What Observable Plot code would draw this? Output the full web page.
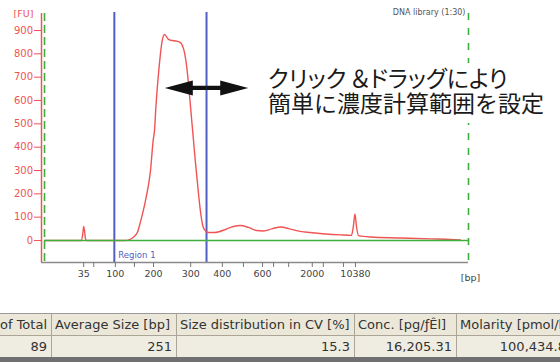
<!DOCTYPE html>
<html><head><meta charset="utf-8">
<script src="https://cdn.jsdelivr.net/npm/d3@7"></script>
<script src="https://cdn.jsdelivr.net/npm/@observablehq/plot@0.6"></script>
<style>
body{margin:0;background:#fff;width:560px;height:362px;overflow:hidden;position:relative;font-family:"DejaVu Sans",sans-serif;}
#chart{position:absolute;left:0;top:0;}
#note{position:absolute;left:262px;top:63px;width:293px;height:60px;background:#fff;color:#1a1a1a;font-family:"Noto Sans CJK JP",sans-serif;font-size:23px;line-height:25px;padding:2px 0 0 6px;box-sizing:border-box;white-space:nowrap;}
#note .l1{font-feature-settings:"palt";}
#tbl{position:absolute;left:0;top:313px;width:560px;height:49px;overflow:hidden;background:#fff;}
#tbl table{position:absolute;left:-45px;top:0;border-collapse:collapse;table-layout:fixed;font-family:"DejaVu Sans",sans-serif;font-size:13px;color:#333;}
#tbl td{border:1px solid #aaa597;height:21px;padding:0;overflow:hidden;white-space:nowrap;line-height:20px;}
#tbl tr.h td{background:#ebe8da;text-align:left;padding-left:3px;border-top:1px solid #9a9a9a;}
#tbl tr.h td.first{text-align:right;padding-right:4px;}
#tbl tr.d td{background:#efece2;text-align:right;padding-right:4px;}
#band{position:absolute;left:0;top:357px;width:560px;height:5px;background:#707070;}
</style></head>
<body>
<div id="chart"></div>
<div id="note"></div>
<div id="tbl"></div>
<div id="band"></div>
<script>
// ---- data ----
const ladderSizes = [35, 50, 100, 150, 200, 300, 400, 500, 600, 700, 1000, 2000, 3000, 7000, 10380];
const ladderTimes = [48.4, 50.4, 54.7, 58.5, 62.3, 69.7, 76.0, 80.2, 84.0, 86.2, 89.2, 93.9, 96.1, 100.1, 102.5];
const labeledSizes = [35, 100, 200, 300, 400, 600, 2000, 10380];
const yTicks = [0, 100, 200, 300, 400, 500, 600, 700, 800, 900];
const traceTime = [40.6, 47.9, 48.2, 48.4, 48.55, 48.75, 48.95, 56.7, 57.5, 58.3, 59.1, 59.7, 60.7, 61.7, 62.23, 62.49, 62.79, 63.35, 64.03, 64.49, 65.28, 66.02, 66.77, 67.53, 68.07, 68.52, 68.96, 69.32, 69.76, 70.2, 70.62, 71.0, 71.4, 71.8, 72.15, 72.65, 73.24, 74.44, 76.6, 78.2, 79.6, 81.2, 82.8, 84.2, 86.0, 87.6, 89.2, 91.0, 93.5, 96.5, 99.5, 101.7, 102.1, 102.4, 102.7, 103.1, 105.5, 111.5, 117.4, 121.4, 123.4];
const traceFU = [0, 0, 25, 60, 45, 8, 0, 0, 4, 14, 35, 80, 171, 300, 429, 471, 579, 729, 857, 883, 862, 857, 855, 850, 835, 800, 735, 657, 550, 443, 340, 257, 170, 100, 60, 41, 34, 34, 47, 60, 64, 56, 43, 41, 51, 58, 51, 41, 34, 28, 24, 22, 64, 114, 60, 21, 15, 11, 7, 5, 2];
const regionBounds = [54.5, 72.85];
const xDomain = [40, 125];
const yDomain = [-94.3, 972.9];
const dashLeft = 40.6;
const sampleName = "DNA library (1:30)";
const regionLabel = "Region 1";
const yUnit = "[FU]";
const xUnit = "[bp]";
const arrowY = 654;
const arrowDirections = [90, -90];
const noteLines = ["クリック\u2009＆ドラッグにより", "簡単に濃度計算範囲を設定"];
const tableHeaders = ["% of Total", "Average Size [bp]", "Size distribution in CV [%]", "Conc. [pg/ƒÊl]", "Molarity [pmol/l]"];
const tableValues = ["89", "251", "15.3", "16,205.31", "100,434.8"];
const colWidths = [96, 125, 178, 102, 114];

const red = "#f05454", green = "#3fae3f", blue = "#4f5fc3";
const trace = traceTime.map((t, i) => ({t, fu: traceFU[i]}));

const arrowShape = {
  draw(ctx, l) {
    const head = 28, half = 7.5, s = 2.1;
    ctx.moveTo(-s, 0); ctx.lineTo(-s, -(l - head)); ctx.lineTo(-half, -(l - head));
    ctx.lineTo(0, -l); ctx.lineTo(half, -(l - head)); ctx.lineTo(s, -(l - head));
    ctx.lineTo(s, 0); ctx.closePath();
  }
};

const chart = Plot.plot({
  width: 560, height: 300,
  marginLeft: 41, marginRight: 92, marginTop: 13, marginBottom: 38,
  style: {fontFamily: "DejaVu Sans, sans-serif", fontSize: "9.5px", background: "transparent", overflow: "visible"},
  x: {domain: xDomain},
  y: {domain: yDomain},
  marks: [
    Plot.ruleX(regionBounds, {stroke: blue, strokeWidth: 2, y1: yDomain[0], y2: 977}),
    Plot.ruleX([dashLeft], {stroke: green, strokeWidth: 1.6, strokeDasharray: "8,4"}),
    Plot.ruleX([xDomain[1]], {stroke: green, strokeWidth: 1.6, strokeDasharray: "7,8"}),
    Plot.line(trace, {x: "t", y: "fu", stroke: red, strokeWidth: 1.4, curve: "monotone-x"}),
    Plot.ruleY([0], {x1: dashLeft, x2: xDomain[1], stroke: green, strokeWidth: 1.5}),
    Plot.ruleY([yDomain[0]], {stroke: "#8a8a8a", strokeWidth: 1.5}),
    Plot.ruleX([xDomain[0]], {stroke: red, strokeWidth: 1.5}),
    Plot.axisY({ticks: yTicks, tickSize: 7, tickPadding: 1.5, color: red, label: null, fontSize: 10}),
    Plot.axisX({ticks: ladderTimes, tickSize: 5, tickPadding: 3, stroke: "#777", fill: "#444", label: null, fontSize: 9.5,
      tickFormat: (t) => { const s = ladderSizes[ladderTimes.indexOf(t)]; return labeledSizes.includes(s) ? String(s) : ""; }}),
    Plot.text([yUnit], {x: xDomain[0], y: yDomain[1], dx: -18, text: d => d, fill: red, fontSize: 9.5}),
    Plot.text([sampleName], {x: xDomain[1], y: yDomain[1], dx: -3, dy: -1, text: d => d, fill: "#555", fontSize: 8, textAnchor: "end"}),
    Plot.text([regionLabel], {x: regionBounds[0], y: -64, dx: 4, text: d => d, fill: blue, fontSize: 8.5, textAnchor: "start"}),
    Plot.text([xUnit], {x: xDomain[1], y: yDomain[0], dx: 2, dy: 15, text: d => d, fill: "#444", fontSize: 9.5}),
    Plot.vector(arrowDirections, {x: regionBounds[1], y: arrowY, rotate: d => d, length: 41.7, anchor: "start", shape: arrowShape, fill: "#111", stroke: "none"})
  ]
});
document.getElementById("chart").appendChild(chart);

document.getElementById("note").innerHTML = `<div class="l1">${noteLines[0]}</div><div>${noteLines[1]}</div>`;

const cols = colWidths.map(w => `<col style="width:${w}px">`).join("");
const head = tableHeaders.map((h, i) => `<td${i === 0 ? ' class="first"' : ''}>${h}</td>`).join("");
const vals = tableValues.map(v => `<td>${v}</td>`).join("");
const total = colWidths.reduce((a, b) => a + b, 0);
document.getElementById("tbl").innerHTML = `<table style="width:${total}px"><colgroup>${cols}</colgroup><tr class="h">${head}</tr><tr class="d">${vals}</tr></table>`;
</script>
</body></html>
